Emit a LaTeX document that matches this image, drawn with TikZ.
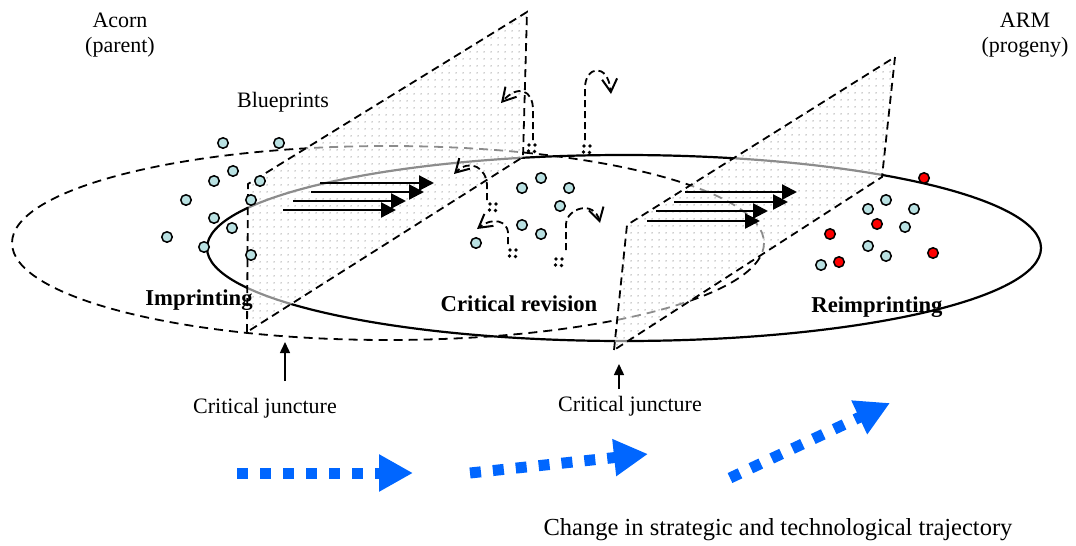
\documentclass[tikz,border=0pt]{standalone}
\usepackage{fontspec}
\setmainfont{Liberation Serif}
\usetikzlibrary{arrows.meta,patterns.meta}
\definecolor{seedcyan}{RGB}{185,225,226}
\definecolor{flowblue}{RGB}{0,102,255}
\begin{document}
\begin{tikzpicture}[x=1pt,y=-1pt,
  seed/.style={circle,draw=black,line width=1.5pt,fill=seedcyan,minimum size=10.5pt,inner sep=0pt},
  redseed/.style={seed,fill=red},
  planeface/.style={fill=white,fill opacity=0.55},
  planedots/.style={pattern={Dots[distance=6.5pt,radius=0.8pt]},pattern color=black!38},
  planeedge/.style={draw=black,line width=1.8pt,dash pattern=on 8pt off 5pt},
  parentring/.style={draw=black,line width=1.8pt,dash pattern=on 9pt off 6pt},
  progenyring/.style={draw=black,line width=2.2pt},
  transfer/.style={line width=2.2pt,-{Triangle[length=15pt,width=15pt]}},
  curl/.style={line width=1.8pt,dash pattern=on 7pt off 4pt,-{Straight Barb[length=13pt,width=15pt,line width=2pt]}},
  grain/.style={circle,fill=black,inner sep=0pt,minimum size=3.8pt},
  flow/.style={draw=flowblue,line width=11pt,dash pattern=on 11pt off 12pt,-{Triangle[length=34pt,width=35pt,fill=flowblue]}},
  uparrow/.style={line width=1.5pt,-{Triangle[length=11pt,width=10pt]}},
  lab/.style={font=\fontsize{22}{25}\selectfont,align=center,inner sep=0pt},
  biglab/.style={font=\fontsize{24.5}{28}\selectfont,inner sep=0pt},
  boldlab/.style={font=\fontsize{22.7}{26}\selectfont\bfseries,inner sep=0pt}
]
\useasboundingbox (0,0) rectangle (1076,546);

% rings
\path[parentring] (388,243) ellipse [x radius=376, y radius=97];
\path[progenyring] (624,248) ellipse [x radius=417, y radius=93];

% planes
\path[planeface] (247,332) -- (248,184) -- (527,12) -- (523,157) -- cycle;
\path[planedots] (247,332) -- (248,184) -- (527,12) -- (523,157) -- cycle;
\path[planeedge] (247,332) -- (248,184) -- (527,12) -- (523,157) -- cycle;

\path[planeface] (614,350) -- (627,225) -- (895,57) -- (882,177) -- cycle;
\path[planedots] (614,350) -- (627,225) -- (895,57) -- (882,177) -- cycle;
\path[planeedge] (614,350) -- (627,225) -- (895,57) -- (882,177) -- cycle;

% parent seeds
\node[seed] (p1) at (223,143) {};
\node[seed] (p2) at (279,143) {};
\node[seed] (p3) at (233,171) {};
\node[seed] (p4) at (214,181) {};
\node[seed] (p5) at (260,181) {};
\node[seed] (p6) at (186,200) {};
\node[seed] (p7) at (251,200) {};
\node[seed] (p8) at (214,218) {};
\node[seed] (p9) at (232,228) {};
\node[seed] (p10) at (167,237) {};
\node[seed] (p11) at (204,247) {};
\node[seed] (p12) at (251,255) {};

% middle seeds
\node[seed] (m1) at (522,188) {};
\node[seed] (m2) at (541,178) {};
\node[seed] (m3) at (569,188) {};
\node[seed] (m4) at (560,206) {};
\node[seed] (m5) at (522,225) {};
\node[seed] (m6) at (541,234) {};
\node[seed] (m7) at (476,243) {};

% progeny seeds
\node[redseed] (r1) at (924,178) {};
\node[seed] (r2) at (886,200) {};
\node[seed] (r3) at (868,209) {};
\node[seed] (r4) at (914,209) {};
\node[redseed] (r5) at (877,224) {};
\node[seed] (r6) at (905,227) {};
\node[redseed] (r7) at (830,234) {};
\node[seed] (r8) at (868,246) {};
\node[seed] (r9) at (886,256) {};
\node[redseed] (r10) at (933,253) {};
\node[seed] (r11) at (821,265) {};
\node[redseed] (r12) at (839,262) {};

% transfer arrows plane 1
\coordinate (a1s) at (320,183); \coordinate (a1e) at (434,183);
\coordinate (a2s) at (311,192); \coordinate (a2e) at (424,192);
\coordinate (a3s) at (293,201); \coordinate (a3e) at (406,201);
\coordinate (a4s) at (283,210); \coordinate (a4e) at (396,210);
\draw[transfer] (a1s) -- (a1e);
\draw[transfer] (a2s) -- (a2e);
\draw[transfer] (a3s) -- (a3e);
\draw[transfer] (a4s) -- (a4e);

% transfer arrows plane 2
\coordinate (b1s) at (685,192); \coordinate (b1e) at (797,192);
\coordinate (b2s) at (674,202); \coordinate (b2e) at (788,202);
\coordinate (b3s) at (656,211); \coordinate (b3e) at (768,211);
\coordinate (b4s) at (647,221); \coordinate (b4e) at (760,221);
\draw[transfer] (b1s) -- (b1e);
\draw[transfer] (b2s) -- (b2e);
\draw[transfer] (b3s) -- (b3e);
\draw[transfer] (b4s) -- (b4e);

% revision curls with grain clusters
\foreach \n/\x/\y in {c1/532/148, c2/587/149, c3/493/207, c4/513/253, c5/559/262}{
  \node[grain] (\n a) at (\x-3,\y-3) {};
  \node[grain] (\n b) at (\x+3,\y-3) {};
  \node[grain] (\n c) at (\x-3.5,\y+3) {};
  \node[grain] (\n d) at (\x+2.5,\y+3.5) {};
}
\draw[curl] (533,140) -- (533,110) .. controls (533,90) and (518,84) .. (501,103);
\draw[curl] (585,140) -- (585,88) .. controls (585,66) and (608,62) .. (611,94);
\draw[curl] (487,200) -- (487,186) .. controls (487,168) and (470,158) .. (454,174);
\draw[curl] (508,244) -- (508,232) .. controls (507,222) and (494,216) .. (477,229);
\draw[curl] (566,250) -- (566,224) .. controls (567,208) and (594,200) .. (600,223);

% labels
\node[lab] (acorn) at (120,35) {Acorn\\(parent)};
\node[lab] (arm) at (1025,35) {ARM\\(progeny)};
\node[lab] (blue) at (283,102) {Blueprints};
\node[boldlab] (imp) at (199,300) {Imprinting};
\node[boldlab] (crit) at (519,304) {Critical revision};
\node[boldlab] (reimp) at (877,307) {Reimprinting};
\node[lab] (cj1) at (265,408) {Critical juncture};
\node[lab] (cj2) at (630,406) {Critical juncture};
\node[biglab] (change) at (778,530) {Change in strategic and technological trajectory};

% juncture arrows
\coordinate (cj1base) at (285,381); \coordinate (cj1tip) at (285,342);
\coordinate (cj2base) at (619,389); \coordinate (cj2tip) at (619,364);
\draw[uparrow] (cj1base) -- (cj1tip);
\draw[uparrow] (cj2base) -- (cj2tip);

% trajectory arrows
\coordinate (f1s) at (237,473); \coordinate (f1e) at (413,473);
\coordinate (f2s) at (470,473); \coordinate (f2e) at (648,454);
\coordinate (f3s) at (730,478); \coordinate (f3e) at (890,403);
\draw[flow] (f1s) -- (f1e);
\draw[flow] (f2s) -- (f2e);
\draw[flow] (f3s) -- (f3e);
\end{tikzpicture}
\end{document}
